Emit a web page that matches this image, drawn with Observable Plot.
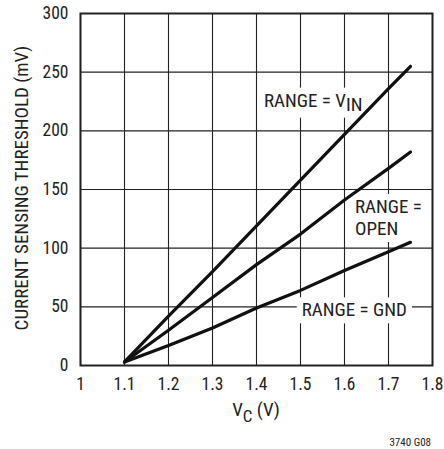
<!DOCTYPE html>
<html>
<head>
<meta charset="utf-8">
<script src="https://cdn.jsdelivr.net/npm/d3@7"></script>
<script src="https://cdn.jsdelivr.net/npm/@observablehq/plot@0.6"></script>
<style>
  html, body { margin: 0; padding: 0; background: #fff; overflow: hidden; }
  #chart { width: 444px; height: 449px; }
</style>
</head>
<body>
<div id="chart"></div>
<script>
// ---- data ----
const vc = [1.1, 1.2, 1.3, 1.4, 1.5, 1.6, 1.7, 1.75];
const vinMv = [3, 42, 80, 119, 158, 197, 236, 255];
const openMv = [3, 30, 58, 86, 112, 141, 168, 182];
const gndMv = [3, 17, 32, 49, 64, 81, 97, 105];
const seriesNames = ["VIN", "OPEN", "GND"];
const xTicks = [1, 1.1, 1.2, 1.3, 1.4, 1.5, 1.6, 1.7, 1.8];
const yTicks = [0, 50, 100, 150, 200, 250, 300];
const xTitleMain = "V";
const xTitleSub = "C";
const xTitleRest = " (V)";
const yTitle = "CURRENT SENSING THRESHOLD (mV)";
const footnote = "3740 G08";
// annotation labels: text lines, subscript, anchor (left x, vertical centre y) in data units
const labelLines = [["RANGE = V"], ["RANGE =", "OPEN"], ["RANGE = GND"]];
const labelSubs = ["IN", "", ""];
const labelX = [1.418, 1.625, 1.504];
const labelY = [226, 126, 47.3];

const rows = [];
[vinMv, openMv, gndMv].forEach((arr, s) => {
  arr.forEach((v, i) => rows.push({series: seriesNames[s], x: vc[i], y: v}));
});

const FONT = "'Roboto Condensed', 'Liberation Sans Narrow', Roboto, sans-serif";
const INK = "#222";

const plot = Plot.plot({
  width: 444,
  height: 449,
  marginLeft: 80,
  marginRight: 12,
  marginTop: 13,
  marginBottom: 84,
  style: {fontFamily: FONT, fontSize: "17.5px", color: INK, background: "#fff"},
  x: {domain: [1, 1.8], ticks: xTicks},
  y: {domain: [0, 300], ticks: yTicks},
  marks: [
    Plot.gridX(xTicks, {stroke: INK, strokeOpacity: 1, strokeWidth: 1.1}),
    Plot.gridY(yTicks, {stroke: INK, strokeOpacity: 1, strokeWidth: 1.1}),
    Plot.axisX(xTicks, {tickSize: 0, tickPadding: 12, label: null, tickFormat: d => String(d), fontSize: 17.5, fill: INK}),
    Plot.axisY(yTicks, {tickSize: 0, tickPadding: 12, label: null, fontSize: 17.5, fill: INK}),
    Plot.line(rows, {x: "x", y: "y", z: "series", stroke: "#111", strokeWidth: 3.2, strokeLinecap: "round", strokeLinejoin: "round"}),
    Plot.frame({stroke: INK, strokeWidth: 2})
  ]
});

document.getElementById("chart").appendChild(plot);

const svg = d3.select(plot);
const xs = plot.scale("x"), ys = plot.scale("y");
const lineNode = plot.querySelector('[aria-label="line"]');

// annotation labels with white boxes, placed beneath the data lines
labelLines.forEach((lines, i) => {
  const g = svg.insert("g", () => lineNode);
  const rect = g.append("rect").attr("fill", "#fff");
  const t = g.append("text")
    .attr("text-anchor", "start")
    .attr("font-family", FONT)
    .attr("font-size", 19)
    .attr("fill", INK);
  const x0 = xs.apply(labelX[i]);
  const yc = ys.apply(labelY[i]);
  const lh = 22;
  const n = lines.length;
  lines.forEach((ln, j) => {
    t.append("tspan")
      .attr("x", x0)
      .attr("y", yc + (j - (n - 1) / 2) * lh)
      .attr("dy", "0.36em")
      .text(ln);
    if (j === 0 && labelSubs[i]) {
      t.append("tspan").attr("dy", 4).text(labelSubs[i]);
    }
  });
  const bb = t.node().getBBox();
  rect.attr("x", bb.x - 5).attr("y", bb.y - 1).attr("width", bb.width + 10).attr("height", bb.height + 3);
});

// x axis title with subscript
const xMid = (xs.range[0] + xs.range[1]) / 2;
const xt = svg.append("text")
  .attr("x", xMid).attr("y", 416)
  .attr("text-anchor", "middle")
  .attr("font-family", FONT).attr("font-size", 19).attr("fill", INK);
xt.append("tspan").text(xTitleMain);
xt.append("tspan").attr("dy", 6).attr("font-size", 17).text(xTitleSub);
xt.append("tspan").attr("dy", -6).text(xTitleRest);

// y axis title
const yMid = (ys.range[0] + ys.range[1]) / 2;
svg.append("text")
  .attr("transform", `translate(28,${yMid - 1}) rotate(-90)`)
  .attr("text-anchor", "middle")
  .attr("font-family", FONT).attr("font-size", 19).attr("fill", INK)
  .text(yTitle);

// footnote
svg.append("text")
  .attr("x", 431).attr("y", 446)
  .attr("text-anchor", "end")
  .attr("font-family", FONT).attr("font-size", 11).attr("fill", INK)
  .text(footnote);
</script>
</body>
</html>
